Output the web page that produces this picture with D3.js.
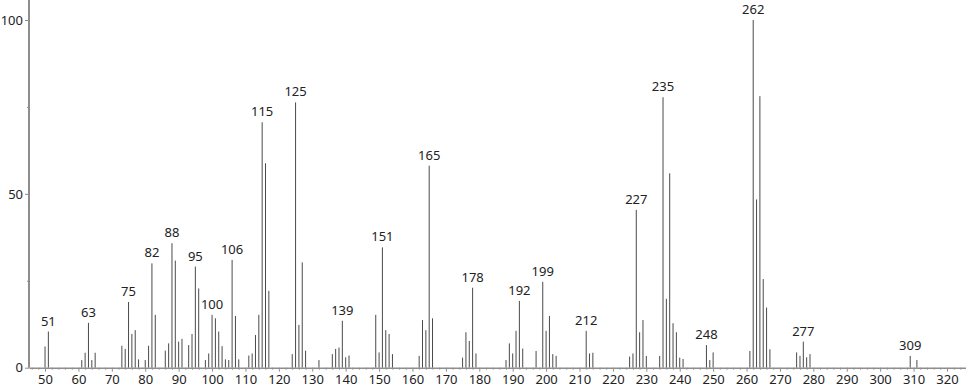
<!DOCTYPE html>
<meta charset="utf-8">
<style>
  body { margin: 0; background: #fff; }
  text { font-family: "Noto Sans", "Liberation Sans", sans-serif; fill: #222; }
</style>
<script src="https://cdn.jsdelivr.net/npm/d3@7"></script>
<svg id="chart" width="966" height="389"></svg>
<script>

  // m/z values and relative intensities
  var mz = [50, 51, 61, 62, 63, 64, 65, 73, 74, 75, 76, 77, 78, 80, 81, 82, 83, 86, 87, 88, 89, 90, 91, 93, 94, 95, 96,
            98, 99, 100, 101, 102, 103, 104, 105, 106, 107, 108, 111, 112, 113, 114, 115, 116, 117,
            124, 125, 126, 127, 128, 132, 136, 137, 138, 139, 140, 141, 149, 150, 151, 152, 153, 154,
            162, 163, 164, 165, 166, 175, 176, 177, 178, 179, 188, 189, 190, 191, 192, 193, 197,
            199, 200, 201, 202, 203, 212, 213, 214, 225, 226, 227, 228, 229, 230, 234, 235, 236, 237,
            238, 239, 240, 241, 248, 249, 250, 261, 262, 263, 264, 265, 266, 267, 275, 276, 277, 278,
            279, 309, 311];
  var intensity = [6.1, 10.4, 2.2, 4.3, 12.9, 2.2, 4.3, 6.3, 5.4, 18.9, 9.7, 10.8, 2.4, 2.2, 6.3, 30.0, 15.2, 4.9, 7.0, 35.8, 30.8, 7.5, 8.3, 6.5, 9.7, 29.1, 22.8,
            2.2, 4.1, 15.2, 14.2, 10.4, 6.2, 2.4, 2.2, 31.0, 14.9, 2.4, 3.5, 4.1, 9.4, 15.2, 70.6, 58.8, 22.1,
            3.9, 76.3, 12.3, 30.3, 4.9, 2.2, 3.9, 5.4, 5.8, 13.5, 3.0, 3.5, 15.2, 4.4, 34.6, 10.8, 9.7, 3.9,
            3.4, 13.7, 10.8, 58.1, 14.2, 2.9, 10.2, 7.7, 23.0, 4.1, 2.2, 7.0, 4.1, 10.6, 19.2, 5.5, 4.8,
            24.7, 10.6, 14.9, 3.9, 3.4, 10.6, 4.1, 4.3, 3.2, 4.1, 45.4, 10.2, 13.7, 3.4, 3.4, 77.8, 19.8, 55.9,
            12.8, 10.2, 2.9, 2.5, 6.5, 2.2, 4.4, 4.8, 100, 48.4, 78.1, 25.5, 17.3, 5.3, 4.4, 3.4, 7.5, 3.0,
            3.9, 3.4, 2.2];

  // peaks that carry a label
  var labelled = [51, 63, 75, 82, 88, 95, 100, 106, 115, 125, 139, 151, 165, 178, 192, 199, 212, 227, 235, 248, 262, 277, 309];

  var xTicks = d3.range(50, 321, 10);
  var xMinor = d3.range(46, 326, 2).filter(function(d) { return d % 10 != 0; });
  var yTicks = [0, 50, 100];
  var yMinor = [25, 75];

  var peaks = mz.map(function(d, i) { return { mz: d, v: intensity[i] }; });

  var svg = d3.select("#chart");

  var x = d3.scaleLinear().domain([45.2, 325.7]).range([29, 966]);
  var y = d3.scaleLinear().domain([0, 100]).range([367.7, 20]);

  var axisColor = "#8e8e8e";

  // bars
  svg.append("g")
    .selectAll("line")
    .data(peaks)
    .enter()
    .append("line")
      .attr("x1", function(d) { return x(d.mz); })
      .attr("x2", function(d) { return x(d.mz); })
      .attr("y1", y(0))
      .attr("y2", function(d) { return y(d.v); })
      .attr("stroke", "#4a4a4a")
      .attr("stroke-width", 1);

  // x axis: minor ticks, then major ticks with labels
  var gxMinor = svg.append("g")
    .attr("transform", "translate(0," + y(0) + ")")
    .call(d3.axisBottom(x).tickValues(xMinor).tickSize(2).tickFormat("").tickSizeOuter(0));
  gxMinor.select(".domain").remove();

  var gx = svg.append("g")
    .attr("transform", "translate(0," + y(0) + ")")
    .call(d3.axisBottom(x).tickValues(xTicks).tickSize(4).tickSizeOuter(0).tickPadding(3));

  // y axis
  var gyMinor = svg.append("g")
    .attr("transform", "translate(" + x.range()[0] + ",0)")
    .call(d3.axisLeft(y).tickValues(yMinor).tickSize(2).tickFormat(""));
  gyMinor.select(".domain").remove();

  var gy = svg.append("g")
    .attr("transform", "translate(" + x.range()[0] + ",0)")
    .call(d3.axisLeft(y).tickValues(yTicks).tickSize(4).tickPadding(2));
  gy.select(".domain").remove();

  svg.append("line")
    .attr("x1", x.range()[0]).attr("x2", x.range()[0])
    .attr("y1", y(0)).attr("y2", 0)
    .attr("stroke", axisColor)
    .attr("stroke-width", 2);

  svg.selectAll(".domain").attr("stroke", axisColor).attr("stroke-width", 1.5);
  svg.selectAll(".tick line").attr("stroke", axisColor);
  svg.selectAll(".tick text")
    .style("font-size", "13px")
    .style("font-family", '"Noto Sans", sans-serif')
    .attr("fill", "#222");

  // peak labels
  svg.append("g")
    .selectAll("text")
    .data(peaks.filter(function(d) { return labelled.indexOf(d.mz) >= 0; }))
    .enter()
    .append("text")
      .attr("x", function(d) { return x(d.mz); })
      .attr("y", function(d) { return y(d.v) - 6; })
      .attr("text-anchor", "middle")
      .style("font-size", "13px")
      .text(function(d) { return d.mz; });

</script>
